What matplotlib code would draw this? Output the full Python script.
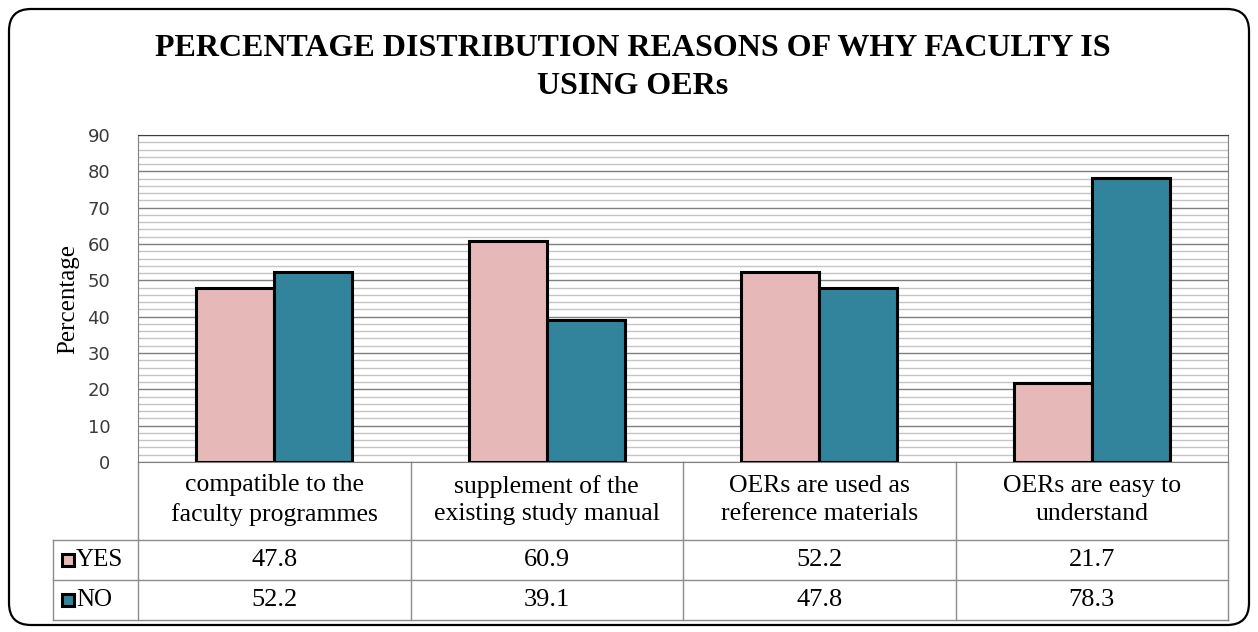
import numpy as np
import matplotlib.pyplot as plt
from matplotlib.patches import FancyBboxPatch, Rectangle
from matplotlib.transforms import blended_transform_factory

categories = ["compatible to the\nfaculty programmes",
              "supplement of the\nexisting study manual",
              "OERs are used as\nreference materials",
              "OERs are easy to\nunderstand"]
series_names = ["YES", "NO"]
yes_vals = [47.8, 60.9, 52.2, 21.7]
no_vals = [52.2, 39.1, 47.8, 78.3]
colors = ["#E6B9B8", "#31849B"]

W, H = 1258, 632
serif = "Liberation Serif"

fig = plt.figure(figsize=(W / 100, H / 100), dpi=100)

# background overlay in pixel coordinates
bg = fig.add_axes([0, 0, 1, 1])
bg.set_xlim(0, W)
bg.set_ylim(H, 0)
bg.axis("off")
bg.add_patch(FancyBboxPatch((9, 9), W - 18, H - 16, boxstyle="round,pad=0,rounding_size=22",
                            fc="white", ec="black", lw=1.6))

# main axes
left, right, top, bottom = 138, 1228, 135, 462
ax = fig.add_axes([left / W, 1 - bottom / H, (right - left) / W, (bottom - top) / H])
ax.set_zorder(2)
ax.patch.set_alpha(0)

x = np.arange(len(categories))
bw = 0.287
ax.bar(x - bw / 2, yes_vals, bw, color=colors[0], edgecolor="black", lw=2.2, zorder=3)
ax.bar(x + bw / 2, no_vals, bw, color=colors[1], edgecolor="black", lw=2.2, zorder=3)

ax.set_xlim(-0.5, len(categories) - 0.5)
ax.set_ylim(0, 90)
ax.set_yticks(np.arange(0, 91, 10))
ax.set_yticks(np.arange(0, 91, 2), minor=True)
ax.grid(True, axis="y", which="major", color="#7f7f7f", lw=1.0, zorder=0)
ax.grid(True, axis="y", which="minor", color="#c4c4c4", lw=1.0, zorder=0)
ax.set_xticks([])
ax.tick_params(axis="y", which="both", length=0, pad=20, labelsize=13, labelcolor="#3a3a3a")
for s in ["left", "right", "bottom"]:
    ax.spines[s].set_color("#7f7f7f")
ax.spines["top"].set_color("#404040")

ax.set_ylabel("Percentage", fontsize=18, family=serif, labelpad=6)

# title
fig.text(0.5 + 4 / W, 1 - 48 / H, "PERCENTAGE DISTRIBUTION REASONS OF WHY FACULTY IS",
         ha="center", va="center", fontsize=23, fontweight="bold", family=serif)
fig.text(0.5 + 4 / W, 1 - 86 / H, "USING OERs",
         ha="center", va="center", fontsize=23, fontweight="bold", family=serif)

# data table below axes
tr = blended_transform_factory(ax.transData, bg.transData)
gc = "#8c8c8c"
row_y = [540, 580, 620]
lab_left = 53
bg.plot([left, left], [bottom, row_y[-1]], color=gc, lw=1)
for i in range(len(categories)):
    xr = left + (right - left) * (i + 1) / len(categories)
    bg.plot([xr, xr], [bottom, row_y[-1]], color=gc, lw=1)
for yy in row_y:
    bg.plot([lab_left, right], [yy, yy], color=gc, lw=1)
bg.plot([lab_left, lab_left], [row_y[0], row_y[-1]], color=gc, lw=1)

for i, c in enumerate(categories):
    ax.text(i, 500, c, transform=tr, ha="center", va="center", fontsize=18.5,
            family=serif, linespacing=1.35)

rows = [yes_vals, no_vals]
for r, (name, vals) in enumerate(zip(series_names, rows)):
    yc = (row_y[r] + row_y[r + 1]) / 2
    bg.add_patch(Rectangle((62, yc - 6), 12, 12, fc=colors[r], ec="black", lw=2.2, zorder=3))
    bg.text(76, yc, name, ha="left", va="center", fontsize=18, family=serif)
    for i, v in enumerate(vals):
        ax.text(i, yc, f"{v:.1f}", transform=tr, ha="center", va="center",
                fontsize=19, family=serif)

fig.savefig("out.png", dpi=100)
